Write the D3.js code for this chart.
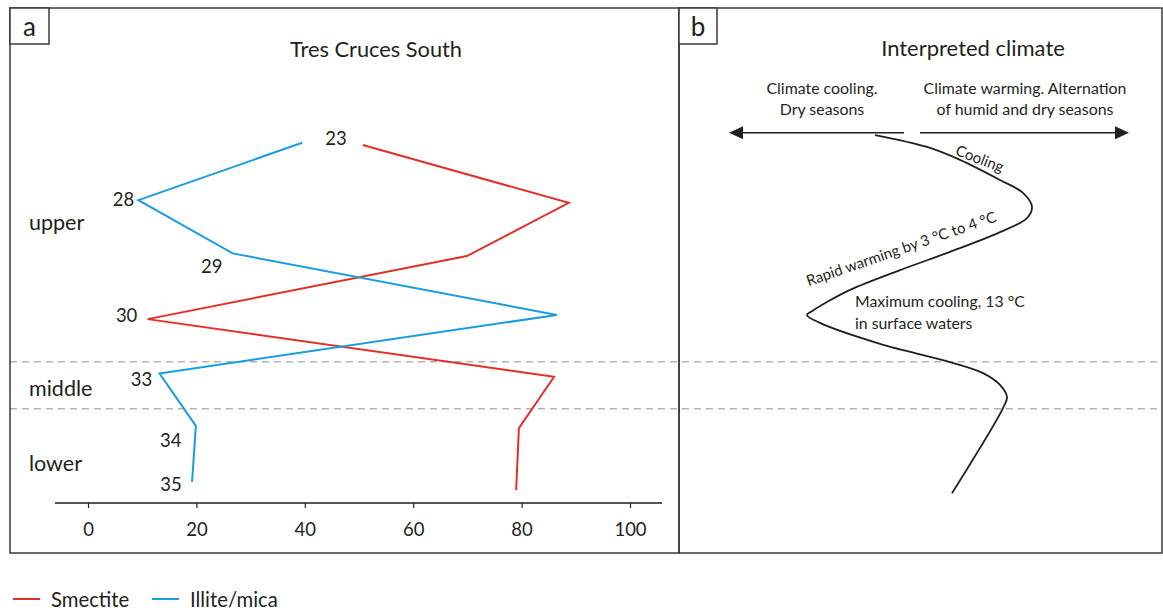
<!DOCTYPE html>
<html>
<head>
<meta charset="utf-8">
<script src="https://cdn.jsdelivr.net/npm/d3@7"></script>
<style>
  body { margin: 0; background: #fff; }
  svg { display: block; font-family: Lato, "Noto Sans", sans-serif; }
</style>
</head>
<body>
<svg id="chart" width="1163" height="610"></svg>
<script>
// Clay mineral abundance (%) by sample, Tres Cruces South
const samples = ["23", "28", "29", "30", "33", "34", "35"];
const illiteMica = [39.5, 9.3, 26.7, 86.5, 13.2, 19.9, 19.2];
const smectite = [50.7, 88.7, 69.9, 11.0, 86.0, 79.5, 79.0];
// stratigraphic position of each analysed sample (0 = top of section, 100 = base)
const illiteLevel = [6.0, 21.1, 35.1, 51.3, 66.7, 80.5, 95.2];
const smectiteLevel = [6.6, 21.8, 35.8, 52.4, 67.6, 81.1, 97.4];
const xTicks = [0, 20, 40, 60, 80, 100];

// lithostratigraphic intervals
const zones = ["upper", "middle", "lower"];
const zoneLabelLevel = [26.8, 70.5, 90.2];
const zoneBoundaries = [63.6, 76.0];

// interpreted climate curve: warmth index (0 = cool, 100 = warm) against level
const climateWarmth = [36.5, 49.5, 57.75, 67.75, 73.5, 75.75, 74.5, 67.75, 55.25, 42.75,
  30.25, 24.5, 20.75, 19.5, 22.75, 37.75, 55.25, 63.5, 67.75, 69.5, 68.5, 55.75];
const climateLevel = [3.95, 7.1, 10.5, 15.8, 19.2, 22.9, 25.8, 29.5, 34.7, 39.5,
  44.7, 47.9, 50.3, 51.3, 53.4, 58.9, 63.7, 66.6, 69.7, 72.9, 75.8, 98.2];

const seriesColors = { smectite: "#e3302b", illite: "#1a9de0" };
const ink = "#231f20";

const svg = d3.select("#chart");

// shared vertical (stratigraphic) scale, one horizontal scale per panel
const y = d3.scaleLinear().domain([0, 100]).range([120, 500]);
const xA = d3.scaleLinear().domain([0, 100]).range([88, 630]);
const xB = d3.scaleLinear().domain([0, 100]).range([729, 1129]);

// ---- interval boundaries (span both panels)
svg.append("g")
  .selectAll("line")
  .data(zoneBoundaries)
  .join("line")
  .attr("x1", 10).attr("x2", 1162)
  .attr("y1", d => y(d)).attr("y2", d => y(d))
  .attr("stroke", "#b3b3b3")
  .attr("stroke-width", 1.5)
  .attr("stroke-dasharray", "7,5");

// ---- panel frames
const frames = [
  { x: 10, w: 669, tag: "a", tagW: 39 },
  { x: 679, w: 483, tag: "b", tagW: 38 }
];
const fg = svg.append("g");
frames.forEach(f => {
  fg.append("rect")
    .attr("x", f.x).attr("y", 8).attr("width", f.w).attr("height", 545)
    .attr("fill", "none").attr("stroke", "#3a3a3a").attr("stroke-width", 1.5);
  fg.append("rect")
    .attr("x", f.x).attr("y", 8).attr("width", f.tagW).attr("height", 36)
    .attr("fill", "#fff").attr("stroke", "#3a3a3a").attr("stroke-width", 1.5);
  fg.append("text")
    .attr("x", f.x + f.tagW / 2).attr("y", 26)
    .attr("text-anchor", "middle").attr("dominant-baseline", "central")
    .attr("font-size", 26).attr("fill", ink)
    .text(f.tag);
});

// ---- panel a: titles and interval names
svg.append("text")
  .attr("x", 376).attr("y", 48)
  .attr("text-anchor", "middle").attr("dominant-baseline", "central")
  .attr("font-size", 21.8).attr("fill", ink)
  .text("Tres Cruces South");

svg.append("g")
  .selectAll("text")
  .data(zones)
  .join("text")
  .attr("x", 29)
  .attr("y", (d, i) => y(zoneLabelLevel[i]))
  .attr("dominant-baseline", "central")
  .attr("font-size", 21.5).attr("fill", ink)
  .text(d => d);

// ---- x axis
const axisY = 503;
const axisG = svg.append("g").attr("transform", `translate(0,${axisY})`);
axisG.call(d3.axisBottom(xA).tickValues(xTicks).tickSize(5).tickPadding(15))
  .call(g => g.select(".domain").remove())
  .call(g => g.selectAll(".tick line").attr("stroke", ink).attr("stroke-width", 1.2))
  .call(g => g.selectAll(".tick text")
    .attr("font-size", 18.5).attr("fill", ink)
    .attr("font-family", "Lato, 'Noto Sans', sans-serif"));
axisG.append("line")
  .attr("x1", xA(-6.1)).attr("x2", xA(105.9))
  .attr("stroke", ink).attr("stroke-width", 1.3);

// ---- mineral profiles
const profile = (vals, levels) => vals.map((v, i) => ({ v, lv: levels[i] }));
const line = d3.line().x(d => xA(d.v)).y(d => y(d.lv));

svg.append("path")
  .datum(profile(smectite, smectiteLevel))
  .attr("d", line)
  .attr("fill", "none").attr("stroke", seriesColors.smectite)
  .attr("stroke-width", 2).attr("stroke-linejoin", "miter");

svg.append("path")
  .datum(profile(illiteMica, illiteLevel))
  .attr("d", line)
  .attr("fill", "none").attr("stroke", seriesColors.illite)
  .attr("stroke-width", 2).attr("stroke-linejoin", "miter");

// sample numbers sit beside the left-most point of each sample
const sampleLabelOffset = {
  "23": [34, -5], "28": [-15, -1], "29": [-21, 13], "30": [-21, -4],
  "33": [-18, 6], "34": [-25, 14], "35": [-21, 2]
};
svg.append("g")
  .selectAll("text")
  .data(samples)
  .join("text")
  .each(function (d, i) {
    const useIllite = illiteMica[i] <= smectite[i];
    const v = useIllite ? illiteMica[i] : smectite[i];
    const lv = useIllite ? illiteLevel[i] : smectiteLevel[i];
    const off = sampleLabelOffset[d];
    d3.select(this)
      .attr("x", xA(v) + off[0])
      .attr("y", y(lv) + off[1]);
  })
  .attr("text-anchor", "middle").attr("dominant-baseline", "central")
  .attr("font-size", 18.5).attr("fill", ink)
  .text(d => d);

// ---- panel b: interpreted climate
svg.append("text")
  .attr("x", 973).attr("y", 47)
  .attr("text-anchor", "middle").attr("dominant-baseline", "central")
  .attr("font-size", 22).attr("fill", ink)
  .text("Interpreted climate");

const captions = [
  { x: 822, lines: ["Climate cooling.", "Dry seasons"] },
  { x: 1025, lines: ["Climate warming. Alternation", "of humid and dry seasons"] }
];
captions.forEach(c => {
  c.lines.forEach((t, k) => {
    svg.append("text")
      .attr("x", c.x).attr("y", 87 + k * 21.5)
      .attr("text-anchor", "middle").attr("dominant-baseline", "central")
      .attr("font-size", 15.9).attr("fill", ink)
      .text(t);
  });
});

// cooling / warming direction arrows
const arrowLevel = 3.35;
const ay = y(arrowLevel);
const arrows = [
  { from: 43.75, to: 0 },
  { from: 47.75, to: 100 }
];
arrows.forEach(a => {
  const tip = xB(a.to);
  const dir = a.to > a.from ? 1 : -1;
  const base = tip - dir * 14;
  svg.append("line")
    .attr("x1", xB(a.from)).attr("x2", base)
    .attr("y1", ay).attr("y2", ay)
    .attr("stroke", ink).attr("stroke-width", 1.6);
  svg.append("path")
    .attr("d", `M${tip},${ay}L${base},${ay - 6.5}L${base},${ay + 6.5}Z`)
    .attr("fill", ink);
});

// climate curve
const climate = climateWarmth.map((w, i) => ({ w, lv: climateLevel[i] }));
svg.append("path")
  .datum(climate)
  .attr("d", d3.line().x(d => xB(d.w)).y(d => y(d.lv)).curve(d3.curveCatmullRom.alpha(0.5)))
  .attr("fill", "none").attr("stroke", ink).attr("stroke-width", 1.8);

// curve annotations
svg.append("text")
  .attr("transform", "translate(980,158) rotate(21)")
  .attr("text-anchor", "middle").attr("dominant-baseline", "central")
  .attr("font-size", 15).attr("fill", ink)
  .text("Cooling");

svg.append("text")
  .attr("transform", "translate(901,248) rotate(-19)")
  .attr("text-anchor", "middle").attr("dominant-baseline", "central")
  .attr("font-size", 15).attr("fill", ink)
  .text("Rapid warming by 3 °C to 4 °C");

["Maximum cooling, 13 °C", "in surface waters"].forEach((t, k) => {
  svg.append("text")
    .attr("x", 855).attr("y", 300 + k * 22)
    .attr("dominant-baseline", "central")
    .attr("font-size", 15.8).attr("fill", ink)
    .text(t);
});

// ---- legend
const legendItems = [
  { name: "Smectite", color: seriesColors.smectite, x: 13 },
  { name: "Illite/mica", color: seriesColors.illite, x: 152 }
];
const lg = svg.append("g").attr("transform", "translate(0,599)");
legendItems.forEach(it => {
  lg.append("line")
    .attr("x1", it.x).attr("x2", it.x + 27)
    .attr("stroke", it.color).attr("stroke-width", 2);
  lg.append("text")
    .attr("x", it.x + 38).attr("dominant-baseline", "central")
    .attr("font-size", 20.3).attr("fill", ink)
    .text(it.name);
});
</script>
</body>
</html>
